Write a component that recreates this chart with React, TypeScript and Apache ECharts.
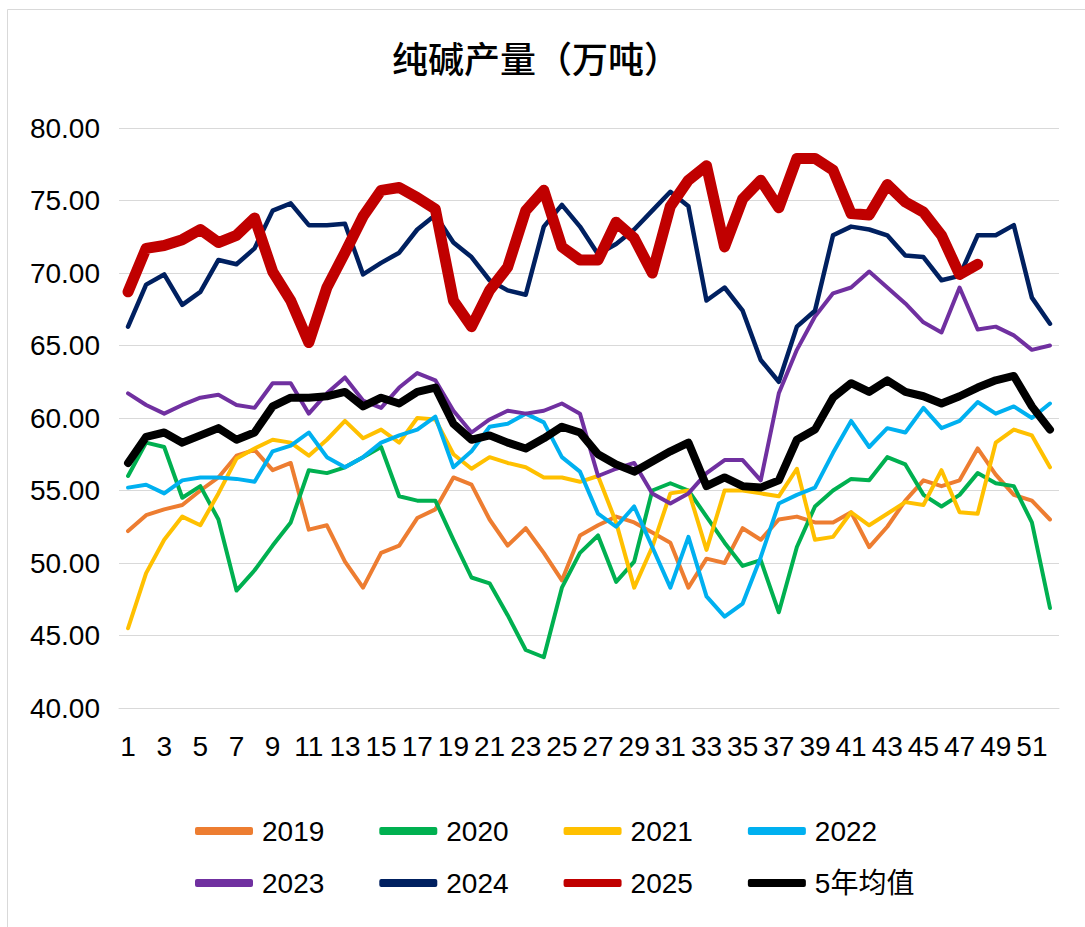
import React, { useEffect, useRef } from "react";
import * as echarts from "echarts";

const weeks: string[] = Array.from({ length: 52 }, (_, i) => String(i + 1));

const y2019 = [52.2,53.3,53.7,54.0,55.0,55.9,57.4,57.8,56.4,56.9, 52.3,52.6,50.1,48.3,50.7,51.2,53.1,53.7,55.9,55.4, 53.0,51.2,52.4,50.7,48.8,51.9,52.6,53.2,52.8,52.1, 51.4,48.3,50.3,50.0,52.4,51.6,53.0,53.2,52.8,52.8, 53.5,51.1,52.5,54.3,55.7,55.3,55.7,57.9,56.1,54.7, 54.3,53.0];
const y2020 = [56.0,58.3,58.0,54.5,55.3,53.0,48.1,49.5,51.2,52.8, 56.4,56.2,56.6,57.3,58.0,54.6,54.3,54.3,51.6,49.0, 48.6,46.4,44.0,43.5,48.3,50.7,51.9,48.7,50.1,55.0, 55.5,55.0,53.2,51.4,49.8,50.2,46.6,51.1,53.9,55.0, 55.8,55.7,57.3,56.8,54.7,53.9,54.7,56.2,55.5,55.3, 52.8,46.9];
const y2021 = [45.5,49.3,51.6,53.2,52.6,54.8,57.2,57.9,58.5,58.3, 57.4,58.5,59.8,58.6,59.2,58.3,60.0,59.9,57.5,56.5, 57.3,56.9,56.6,55.9,55.9,55.6,56.0,52.8,48.3,51.1, 54.8,55.0,50.9,55.0,55.0,54.8,54.6,56.5,51.6,51.8, 53.5,52.6,53.4,54.2,54.0,56.4,53.5,53.4,58.3,59.2, 58.8,56.6];
const y2022 = [55.2,55.4,54.8,55.7,55.9,55.9,55.8,55.6,57.7,58.1, 59.0,57.3,56.6,57.3,58.3,58.8,59.2,60.1,56.6,57.7, 59.4,59.6,60.3,59.7,57.3,56.3,53.4,52.5,53.9,51.1, 48.3,51.8,47.7,46.3,47.2,50.4,54.1,54.7,55.2,57.6, 59.8,58.0,59.3,59.0,60.7,59.3,59.8,61.1,60.3,60.8, 60.0,61.0];
const y2023 = [61.7,60.9,60.3,60.9,61.4,61.6,60.9,60.7,62.4,62.4, 60.3,61.7,62.8,61.2,60.7,62.1,63.1,62.6,60.5,59.0, 59.9,60.5,60.3,60.5,61.0,60.3,56.0,56.5,56.9,54.8, 54.1,54.8,56.2,57.1,57.1,55.7,61.7,64.7,67.0,68.6, 69.0,70.1,69.0,67.9,66.6,65.9,69.0,66.1,66.3,65.7, 64.7,65.0];
const y2024 = [66.3,69.2,69.9,67.8,68.7,70.9,70.6,71.7,74.3,74.8, 73.3,73.3,73.4,69.9,70.7,71.4,73.0,74.0,72.1,71.1, 69.5,68.8,68.5,73.2,74.7,73.2,71.3,72.0,73.0,74.3, 75.6,74.6,68.1,69.0,67.4,64.0,62.5,66.3,67.4,72.6, 73.2,73.0,72.6,71.2,71.1,69.5,69.8,72.6,72.6,73.3, 68.3,66.5];
const y2025 = [68.7,71.7,71.9,72.3,73.0,72.1,72.6,73.8,70.1,68.1, 65.2,69.0,71.4,73.9,75.7,75.9,75.2,74.4,68.1,66.3, 68.8,70.4,74.3,75.7,71.8,70.9,70.9,73.5,72.4,70.0, 74.6,76.4,77.4,71.8,75.1,76.4,74.5,77.9,77.9,77.1, 74.1,74.0,76.1,74.9,74.2,72.6,69.9,70.6];
const avg5 = [56.9,58.7,59.0,58.3,58.8,59.3,58.5,59.0,60.8,61.4, 61.4,61.5,61.8,60.8,61.4,61.0,61.8,62.1,59.6,58.5, 58.8,58.3,57.9,58.6,59.4,59.0,57.5,56.8,56.3,57.0, 57.7,58.3,55.3,55.9,55.3,55.2,55.7,58.5,59.2,61.4, 62.4,61.8,62.6,61.8,61.5,61.0,61.5,62.1,62.6,62.9, 60.8,59.2];

const seriesNames = ["2019", "2020", "2021", "2022", "2023", "2024", "2025", "5年均值"];
const seriesData = [y2019, y2020, y2021, y2022, y2023, y2024, y2025, avg5];
const colors = ["#ED7D31", "#00B050", "#FFC000", "#00B0F0", "#7030A0", "#002060", "#C00000", "#000000"];
const widths = [4, 4, 4, 4, 4, 4.5, 11, 8];

const numFont = "'Liberation Sans', Arial, 'Noto Sans CJK SC', sans-serif";

export default function App() {
  const ref = useRef<HTMLDivElement>(null);
  useEffect(() => {
    if (!ref.current) return;
    const chart = echarts.init(ref.current, undefined, { renderer: "svg" });
    chart.setOption({
      animation: false,
      backgroundColor: "#ffffff",
      graphic: [
        {
          type: "rect",
          shape: { x: 7.5, y: 9.5, width: 1200, height: 1200 },
          style: { fill: "none", stroke: "#d9d9d9", lineWidth: 1 },
          silent: true,
        },
        {
          type: "text",
          x: 536,
          y: 57,
          style: {
            text: "纯碱产量（万吨）",
            fontFamily: "'Noto Sans CJK SC', sans-serif",
            fontSize: 36,
            fontWeight: 500,
            fill: "#000000",
            textAlign: "center",
            textVerticalAlign: "middle",
          },
        },
      ],
      legend: [
        {
          data: seriesNames.slice(0, 4),
          left: 190,
          top: 812,
          orient: "horizontal",
          icon: "roundRect",
          itemWidth: 58,
          itemHeight: 8,
          itemGap: 55,
          textStyle: { fontFamily: numFont, fontSize: 28, color: "#000", padding: [0, 0, 0, 4] },
        },
        {
          data: seriesNames.slice(4),
          left: 190,
          top: 864,
          orient: "horizontal",
          icon: "roundRect",
          itemWidth: 58,
          itemHeight: 8,
          itemGap: 55,
          textStyle: { fontFamily: numFont, fontSize: 28, color: "#000", padding: [0, 0, 0, 4] },
        },
      ],
      grid: { left: 119, right: 26, top: 128, bottom: 219, containLabel: false },
      xAxis: {
        type: "category",
        data: weeks,
        boundaryGap: true,
        axisLine: { show: true, lineStyle: { color: "#d9d9d9", width: 1 } },
        axisTick: { show: false },
        axisLabel: {
          interval: 1,
          fontFamily: numFont,
          fontSize: 28,
          color: "#000",
          margin: 24,
        },
      },
      yAxis: {
        type: "value",
        min: 40,
        max: 80,
        interval: 5,
        axisLine: { show: false },
        axisTick: { show: false },
        splitLine: { lineStyle: { color: "#d9d9d9", width: 1 } },
        axisLabel: {
          fontFamily: numFont,
          fontSize: 28,
          color: "#000",
          margin: 19,
          formatter: (v: number) => v.toFixed(2),
        },
      },
      series: seriesNames.map((name, i) => ({
        name,
        type: "line",
        data: seriesData[i],
        symbol: "none",
        color: colors[i],
        lineStyle: { color: colors[i], width: widths[i], join: "round", cap: "round" },
        emphasis: { disabled: true },
        z: 2 + i,
      })),
    });
    return () => chart.dispose();
  }, []);
  return (
    <div
      ref={ref}
      style={{ position: "absolute", left: 0, top: 0, width: 1085, height: 927, background: "#fff" }}
    />
  );
}
